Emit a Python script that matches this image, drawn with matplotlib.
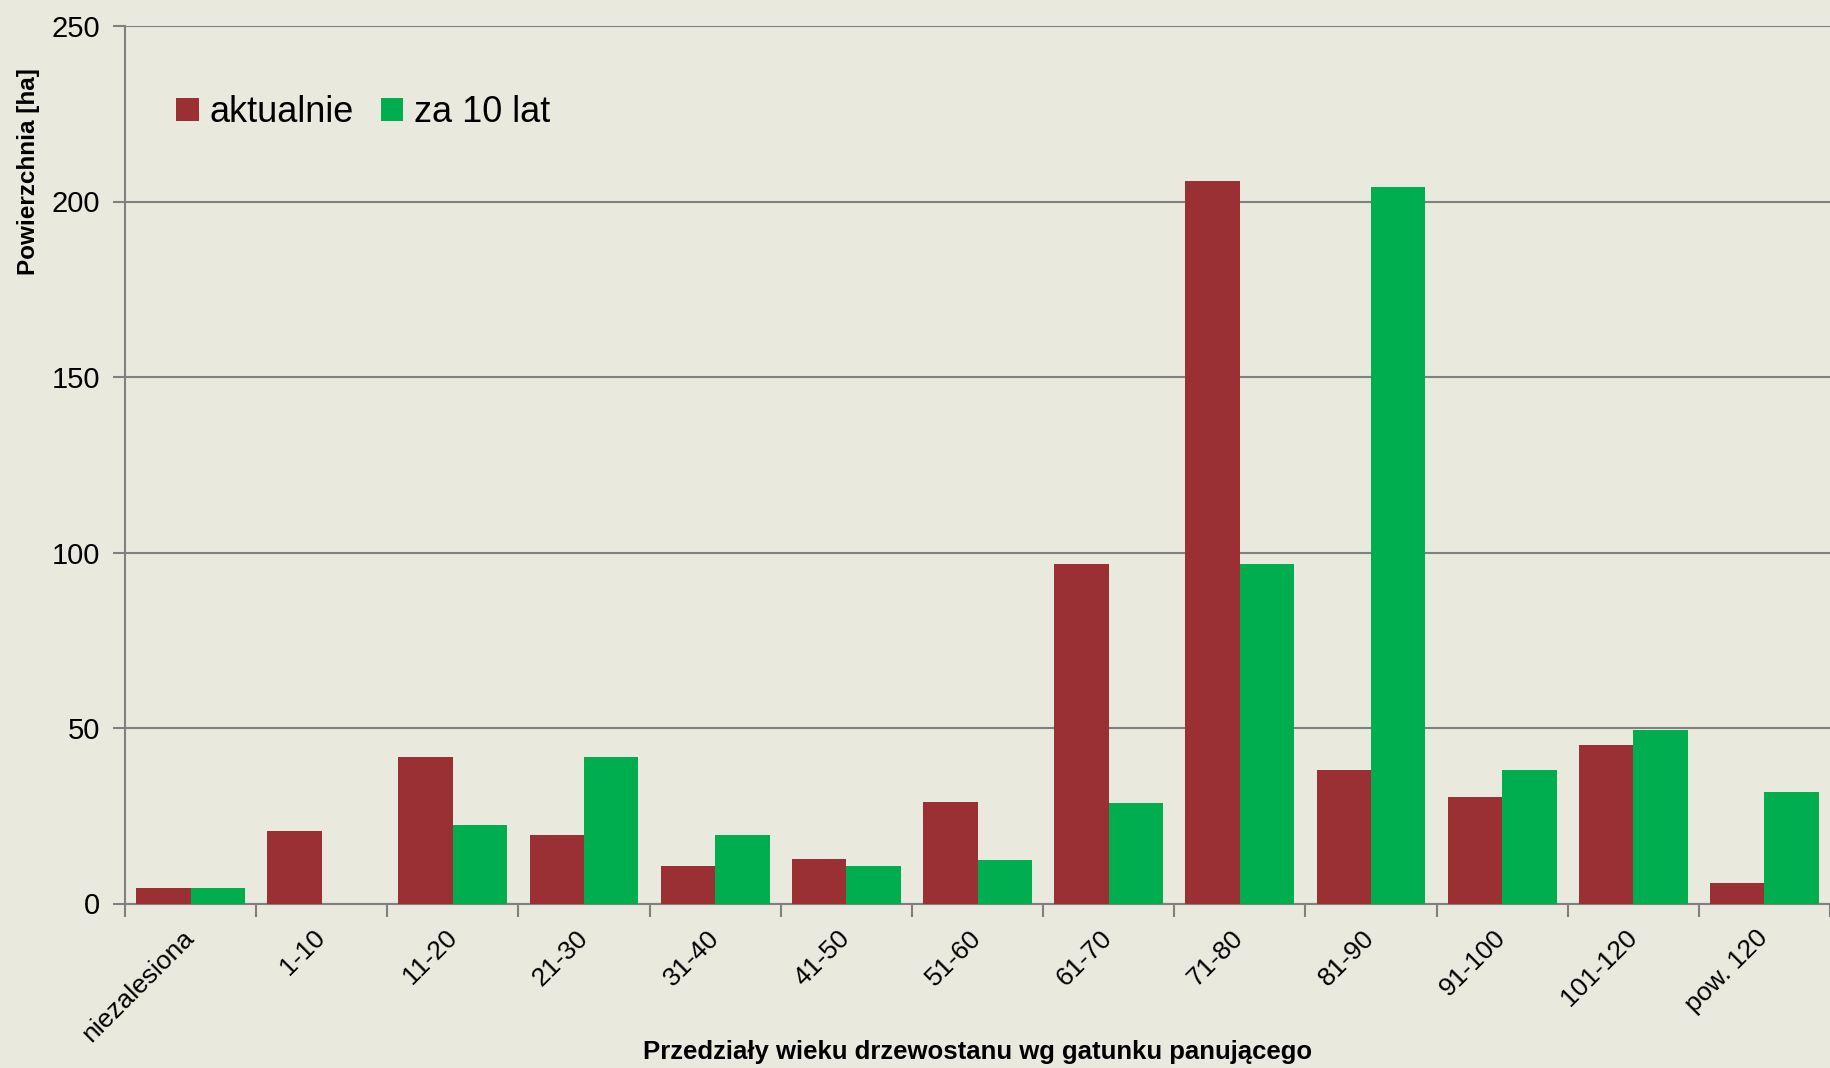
import matplotlib
matplotlib.use("Agg")
import matplotlib.pyplot as plt
import numpy as np

categories = ["niezalesiona", "1-10", "11-20", "21-30", "31-40", "41-50", "51-60",
              "61-70", "71-80", "81-90", "91-100", "101-120", "pow. 120"]
aktualnie = [4.4, 20.6, 41.7, 19.4, 10.6, 12.6, 28.9, 96.8, 205.9, 37.9, 30.3, 45.1, 5.7]
za_10_lat = [4.4, 0, 22.3, 41.7, 19.6, 10.6, 12.3, 28.7, 96.7, 204.1, 37.9, 49.3, 31.8]
yticks = [0, 50, 100, 150, 200, 250]

RED = "#9A3034"
GREEN = "#00AE50"
BG = "#EAE9DE"
GRID = "#808080"

plt.rcParams['font.family'] = ['Liberation Sans', 'DejaVu Sans']

fig = plt.figure(figsize=(18.3, 10.68), dpi=100, facecolor=BG)
ax = fig.add_axes([125/1830, 1 - 903.5/1068, 1 - 125/1830, (903.5 - 26)/1068])
ax.set_facecolor(BG)

x = np.arange(len(categories))
w = 0.415
ax.bar(x - w/2, aktualnie, width=w, color=RED, label="aktualnie", linewidth=0, zorder=3)
ax.bar(x + w/2, za_10_lat, width=w, color=GREEN, label="za 10 lat", linewidth=0, zorder=3)

ax.set_xlim(-0.5, len(categories) - 0.5)
ax.set_ylim(0, 250)
ax.set_yticks(yticks)
ax.set_yticklabels([str(v) for v in yticks], fontsize=21)
ax.yaxis.grid(True, color=GRID, linewidth=1.5, zorder=0)
ax.set_axisbelow(True)

ax.set_xticks(np.arange(len(categories) + 1) - 0.5)
ax.set_xticklabels([])
ax.set_xticks(x, minor=True)
ax.set_xticklabels(categories, minor=True, rotation=45, ha='right', va='center',
                   rotation_mode='anchor', fontsize=19)
ax.tick_params(axis='x', which='minor', length=0, pad=22)
ax.tick_params(axis='x', which='major', length=9, width=1.5, color=GRID, direction='out')
ax.tick_params(axis='y', length=9, width=1.5, color=GRID, direction='out', pad=9)

for s in ['top', 'right']:
    ax.spines[s].set_visible(False)
for s in ['left', 'bottom']:
    ax.spines[s].set_color(GRID)
    ax.spines[s].set_linewidth(1.5)

ax.set_xlabel("Przedziały wieku drzewostanu wg gatunku panującego", fontsize=18.5,
              fontweight='bold')
ax.set_ylabel("Powierzchnia [ha]", fontsize=17.5, fontweight='bold')
ax.xaxis.set_label_coords(0.5, -0.155)
ax.yaxis.set_label_coords(-0.05, 0.834)

leg = ax.legend(loc='upper left', bbox_to_anchor=(0.011, 0.958), frameon=False,
                fontsize=26, handlelength=0.62, handleheight=0.62, handletextpad=0.3,
                ncol=2, columnspacing=0.75)

fig.savefig("out.png", dpi=100, facecolor=BG)
